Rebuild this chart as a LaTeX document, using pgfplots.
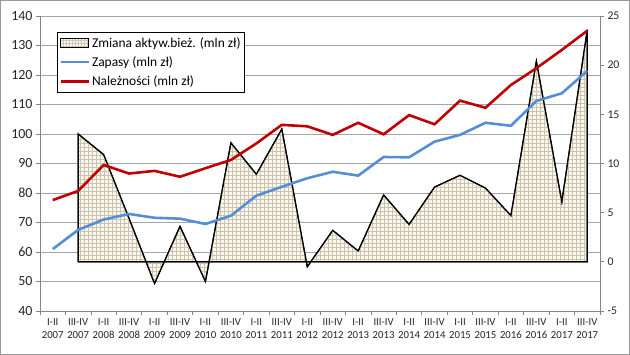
\documentclass[border=0pt]{standalone}
\usepackage{fontspec}
\setmainfont{Carlito}
\usepackage{pgfplots}
\pgfplotsset{compat=1.18}
\usetikzlibrary{patterns.meta}
\definecolor{zblue}{RGB}{85,142,213}
\definecolor{zred}{RGB}{192,0,0}
\definecolor{zfill}{RGB}{253,248,232}
\definecolor{zpat}{RGB}{200,195,182}
\definecolor{zgrid}{RGB}{166,166,166}
\definecolor{zaxis}{RGB}{134,134,134}
\begin{document}
\begin{tikzpicture}
\pgfplotsset{
  base/.style={scale only axis, width=560bp, height=295bp, xmin=-0.5, xmax=21.5,
    /pgf/number format/assume math mode=true,
    axis line style={zaxis, line width=0.8bp},
    tick style={zaxis, line width=0.8bp},
    tick align=outside, major tick length=4bp, minor tick length=4bp},
}
% axis 1: left scale, grid, x axis
\begin{axis}[base, ymin=40, ymax=140, ytick={40,50,...,140},
  ymajorgrids, grid style={zgrid, line width=0.8bp},
  axis x line*=bottom, axis y line*=left,
  xtick={0,...,21},
  minor xtick={-0.5,0.5,...,21.5},
  major x tick style={draw=none},
  xticklabels={{I-II\\2007},{III-IV\\2007},{I-II\\2008},{III-IV\\2008},{I-II\\2009},{III-IV\\2009},{I-II\\2010},{III-IV\\2010},{I-II\\2011},{III-IV\\2011},{I-II\\2012},{III-IV\\2012},{I-II\\2013},{III-IV\\2013},{I-II\\2014},{III-IV\\2014},{I-II\\2015},{III-IV\\2015},{I-II\\2016},{III-IV\\2016},{I-II\\2017},{III-IV\\2017}},
  xticklabel style={align=center, font=\fontsize{10.8}{13.3}\selectfont, text=black!85},
  yticklabel style={font=\fontsize{14}{16}\selectfont, text=black!85},
]
\addplot[draw=none] coordinates {(0,50)};
\coordinate (ll) at (rel axis cs:0,0);
\coordinate (ur) at (rel axis cs:1,1);
\end{axis}
% axis 2: right scale, area
\begin{axis}[base, ymin=-5, ymax=25, ytick={-5,0,...,25},
  axis y line*=right, hide x axis,
  yticklabel style={font=\fontsize{11.8}{14}\selectfont, text=black!85},
]
\addplot[draw=black, line width=1.2bp, fill=zfill,
  postaction={pattern={Hatch[angle=0, distance=4bp, line width=0.3bp]}, pattern color=zpat}]
coordinates {(1,0) (1,13.0) (2,10.9) (3,4.4) (4,-2.2) (5,3.6) (6,-2.0) (7,12.1) (8,8.9) (9,13.5) (10,-0.5) (11,3.2) (12,1.1) (13,6.8) (14,3.8) (15,7.6) (16,8.8) (17,7.5) (18,4.7) (19,20.4) (20,6.1) (21,23.6) (21,0)} -- cycle;
\end{axis}
% axis 3: lines and legend
\begin{axis}[base, ymin=40, ymax=140, hide axis,
  legend style={at={(0.0304,0.9458)}, anchor=north west, draw=black, line width=0.8bp,
    font=\fontsize{13.5}{16}\selectfont, inner xsep=2bp, inner ysep=3bp, row sep=3.8bp,
    legend cell align=left},
  legend image code/.code={\draw[#1] (0bp,0bp) -- (28bp,0bp);},
]
\addlegendimage{legend image code/.code={\draw[black, line width=0.9bp, fill=zfill, postaction={pattern={Hatch[angle=0, distance=3bp, line width=0.3bp]}, pattern color=zpat}] (0bp,-4.5bp) rectangle (28bp,4.5bp);}}
\addlegendentry{Zmiana aktyw.bież. (mln zł)}
\addplot[zblue, line width=2.6bp] coordinates {(0,61.0) (1,67.5) (2,71.0) (3,72.9) (4,71.6) (5,71.3) (6,69.5) (7,72.3) (8,79.1) (9,82.1) (10,85.0) (11,87.2) (12,85.9) (13,92.2) (14,92.1) (15,97.4) (16,99.7) (17,103.8) (18,102.8) (19,111.2) (20,113.8) (21,121.4)};
\addlegendentry{Zapasy (mln zł)}
\addplot[zred, line width=2.6bp] coordinates {(0,77.6) (1,80.7) (2,89.5) (3,86.6) (4,87.5) (5,85.5) (6,88.4) (7,91.2) (8,96.8) (9,103.1) (10,102.6) (11,99.7) (12,103.8) (13,99.9) (14,106.4) (15,103.3) (16,111.3) (17,108.9) (18,116.6) (19,122.3) (20,128.5) (21,135.0)};
\addlegendentry{Należności (mln zł)}
\end{axis}
\pgfresetboundingbox
\path[use as bounding box] ([shift={(-40bp,-44bp)}]ll) rectangle ([shift={(30bp,16bp)}]ur);
\draw[gray!80, line width=1.4bp] ([shift={(-39.3bp,-43.3bp)}]ll) rectangle ([shift={(29.3bp,15.3bp)}]ur);
\end{tikzpicture}
\end{document}
